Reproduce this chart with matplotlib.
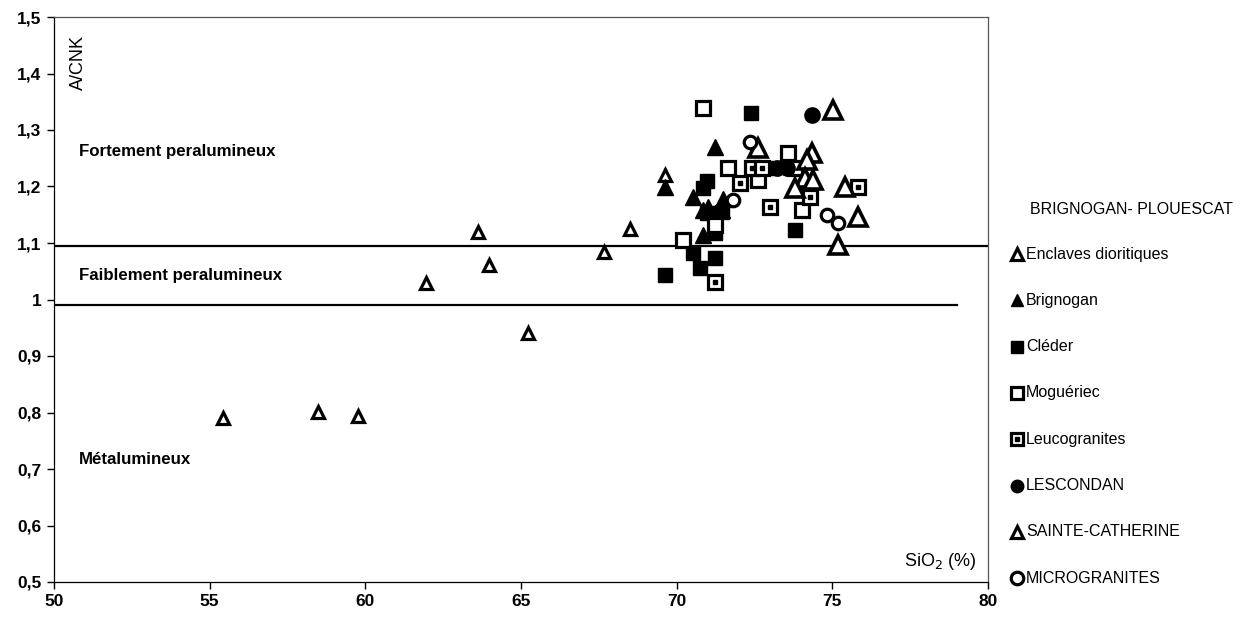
import matplotlib
matplotlib.use("Agg")
import matplotlib.pyplot as plt

plt.rcParams['font.family'] = ['Liberation Sans', 'DejaVu Sans']

# SiO2 (%) vs A/CNK, Brignogan - Plouescat complex
enclaves_x = [55.43, 58.48, 59.77, 61.95, 63.62, 63.97, 65.23, 67.67, 68.50, 69.63]
enclaves_y = [0.790, 0.801, 0.794, 1.029, 1.119, 1.061, 0.941, 1.084, 1.125, 1.220]

brignogan_x = [69.63, 71.23, 70.53, 71.01, 71.49, 70.85, 71.46, 70.85]
brignogan_y = [1.199, 1.270, 1.181, 1.164, 1.178, 1.158, 1.158, 1.114]

cleder_x = [72.39, 70.98, 70.85, 70.98, 71.46, 71.23, 70.53, 71.23, 69.63, 70.75, 73.80, 73.10]
cleder_y = [1.330, 1.209, 1.197, 1.153, 1.155, 1.118, 1.082, 1.073, 1.043, 1.056, 1.123, 1.233]

mogueriec_x = [70.85, 71.65, 73.58, 72.61, 71.23, 70.21, 74.03, 73.80]
mogueriec_y = [1.339, 1.233, 1.259, 1.212, 1.132, 1.105, 1.158, 1.233]

leuco_x = [72.42, 72.74, 72.04, 74.28, 75.83, 71.23, 73.00]
leuco_y = [1.233, 1.233, 1.206, 1.181, 1.199, 1.031, 1.164]

lescondan_x = [74.35, 73.23, 73.55]
lescondan_y = [1.327, 1.233, 1.233]

stecath_x = [75.02, 72.61, 74.35, 74.19, 74.12, 74.38, 73.80, 75.41, 75.83, 75.18]
stecath_y = [1.335, 1.268, 1.259, 1.247, 1.215, 1.212, 1.197, 1.199, 1.146, 1.096]

micro_x = [72.36, 71.81, 74.83, 75.18]
micro_y = [1.279, 1.176, 1.150, 1.135]

# field boundaries
fort_limit = 1.095
faible_limit = 0.99

legend_title = "BRIGNOGAN- PLOUESCAT"
legend_labels = ["Enclaves dioritiques", "Brignogan", "Cléder", "Moguériec",
                 "Leucogranites", "LESCONDAN", "SAINTE-CATHERINE", "MICROGRANITES"]

styles = [
    dict(marker='^', ms=9, mfc='white', mec='black', mew=2.3),
    dict(marker='^', ms=12, mfc='black', mec='black', mew=1),
    dict(marker='s', ms=10, mfc='black', mec='black', mew=1),
    dict(marker='s', ms=10, mfc='white', mec='black', mew=2.3),
    dict(marker='s', ms=10, mfc='white', mec='black', mew=2.3),
    dict(marker='o', ms=11, mfc='black', mec='black', mew=1),
    dict(marker='^', ms=12.5, mfc='white', mec='black', mew=2.6),
    dict(marker='o', ms=9, mfc='white', mec='black', mew=2.3),
]

fig = plt.figure(figsize=(12.45, 6.23), dpi=100)
ax = fig.add_axes([54 / 1245, 1 - 582 / 623, 934 / 1245, 565 / 623])

ax.plot([50, 80], [fort_limit, fort_limit], color='black', lw=1.6, zorder=1)
ax.plot([50, 79], [faible_limit, faible_limit], color='black', lw=1.6, zorder=1)

series = [(enclaves_x, enclaves_y), (brignogan_x, brignogan_y), (cleder_x, cleder_y),
          (mogueriec_x, mogueriec_y), (leuco_x, leuco_y), (lescondan_x, lescondan_y),
          (stecath_x, stecath_y), (micro_x, micro_y)]
for (xs, ys), st in zip(series, styles):
    ax.plot(xs, ys, ls='none', zorder=3, **st)
# dot inside the leucogranite squares
ax.plot(leuco_x, leuco_y, ls='none', marker='s', ms=2.5, mfc='black', mec='black', zorder=4)

ax.set_xlim(50, 80)
ax.set_ylim(0.5, 1.5)
ax.set_xticks(range(50, 81, 5))
ax.set_yticks([0.5 + 0.1 * i for i in range(11)])
ax.set_yticklabels(["0,5", "0,6", "0,7", "0,8", "0,9", "1", "1,1", "1,2", "1,3", "1,4", "1,5"])
ax.tick_params(direction='out', length=5, width=1, labelsize=12.5, pad=4)
for lab in ax.get_xticklabels() + ax.get_yticklabels():
    lab.set_fontweight('bold')
for sp in ax.spines.values():
    sp.set_linewidth(0.9)
for sp in ('top', 'right'):
    ax.spines[sp].set_color('#555555')

ax.text(50.8, 1.262, "Fortement peralumineux", fontsize=12.2, fontweight='bold', va='center')
ax.text(50.8, 1.042, "Faiblement peralumineux", fontsize=12.2, fontweight='bold', va='center')
ax.text(50.8, 0.716, "Métalumineux", fontsize=12.2, fontweight='bold', va='center')
ax.text(50.78, 1.42, "A/CNK", fontsize=13, rotation=90, ha='center', va='center')
ax.text(79.65, 0.537, "SiO$_2$ (%)", fontsize=13, ha='right', va='center')

# legend drawn in figure pixel space
lax = fig.add_axes([0, 0, 1, 1])
lax.set_xlim(0, 1245)
lax.set_ylim(623, 0)
lax.axis('off')
lax.text(1030, 210, legend_title, fontsize=11.5, va='center')
for i, (lab, st) in enumerate(zip(legend_labels, styles)):
    y = 254 + i * 46.3
    st = dict(st)
    st['ms'] = 9
    if st['mfc'] == 'white':
        st['mew'] = 2.3
    lax.plot([1017], [y], ls='none', **st)
    if lab == "Leucogranites":
        lax.plot([1017], [y], ls='none', marker='s', ms=2.5, mfc='black', mec='black')
    lax.text(1026, y, lab, fontsize=11.5, va='center')

fig.savefig("out.png", dpi=100)
